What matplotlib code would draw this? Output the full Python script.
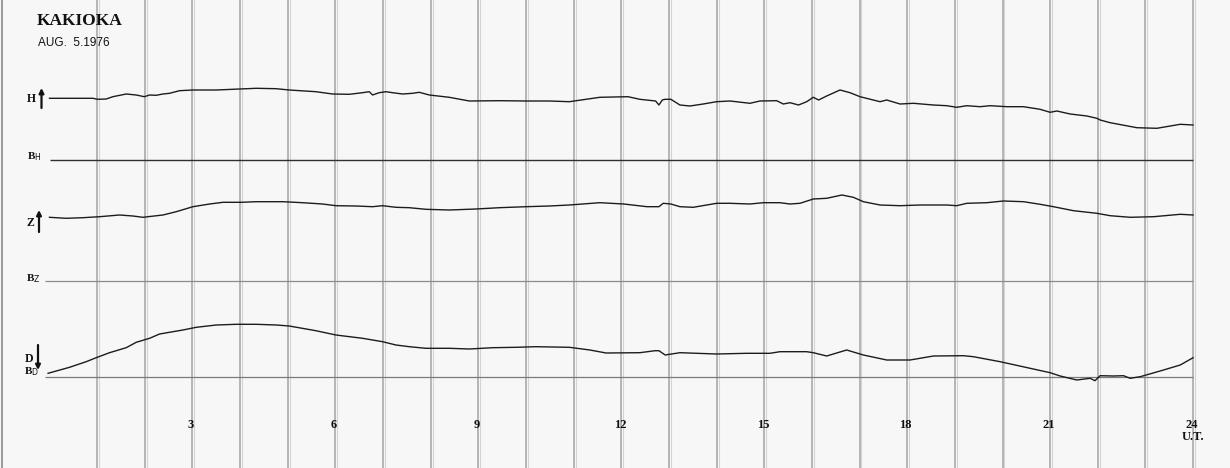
import matplotlib
matplotlib.use('Agg')
import matplotlib.pyplot as plt

# magnetogram traces (hour UT, trace row on the chart paper)
h_hours = [0.00, 0.91, 1.01, 1.19, 1.33, 1.61, 1.82, 1.99, 2.10, 2.24, 2.38, 2.52, 2.73, 3.01, 3.50,
           3.99, 4.34, 4.76, 5.03, 5.59, 5.94, 6.29, 6.57, 6.71, 6.78, 6.92, 7.06, 7.20, 7.41, 7.62,
           7.76, 7.97, 8.39, 8.81, 9.44, 10.00, 10.49, 10.91, 11.55, 12.14, 12.39, 12.72, 12.79, 12.86,
           12.92, 13.04, 13.23, 13.44, 13.72, 14.00, 14.28, 14.70, 14.91, 15.26, 15.40, 15.54, 15.72,
           15.89, 16.03, 16.14, 16.31, 16.59, 16.80, 17.01, 17.43, 17.57, 17.85, 18.13, 18.55, 18.83,
           19.04, 19.25, 19.53, 19.74, 20.09, 20.44, 20.79, 21.00, 21.14, 21.42, 21.77, 21.98, 22.05,
           22.26, 22.82, 23.24, 23.73, 24.00]
h_trace = [98.3, 98.3, 99.3, 99.0, 96.7, 94.0, 95.0, 96.7, 95.0, 95.3, 94.0, 93.3, 90.7, 90.0, 90.0,
           89.0, 88.3, 88.7, 90.0, 91.7, 94.0, 94.3, 92.7, 91.7, 95.0, 92.7, 91.7, 92.7, 94.0, 93.3,
           92.3, 95.0, 97.3, 101.0, 100.7, 101.0, 101.0, 101.7, 97.3, 96.7, 99.3, 101.0, 105.0, 100.0,
           99.3, 99.3, 105.0, 106.0, 104.0, 101.7, 101.0, 103.3, 101.0, 100.7, 104.0, 102.7, 105.0,
           101.7, 97.3, 100.0, 96.0, 90.0, 92.7, 96.7, 101.7, 100.0, 104.0, 103.3, 105.0, 105.7,
           107.3, 105.7, 106.7, 105.7, 106.7, 106.7, 109.3, 112.3, 111.0, 114.0, 116.0, 118.3, 120.0,
           122.7, 127.7, 128.3, 124.3, 125.0]

z_hours = [0.00, 0.35, 0.70, 1.05, 1.47, 1.75, 1.96, 2.38, 2.66, 3.01, 3.36, 3.64, 4.02, 4.34, 4.90,
           5.31, 5.73, 6.01, 6.43, 6.78, 6.99, 7.27, 7.55, 7.90, 8.39, 8.95, 9.44, 10.00, 10.49, 10.91,
           11.55, 12.05, 12.54, 12.79, 12.88, 13.04, 13.23, 13.51, 14.00, 14.28, 14.70, 14.98, 15.33,
           15.54, 15.75, 16.03, 16.31, 16.63, 16.87, 17.08, 17.43, 17.85, 18.27, 18.83, 19.04, 19.25,
           19.67, 20.02, 20.44, 20.79, 21.07, 21.49, 21.98, 22.26, 22.68, 23.17, 23.73, 24.00]
z_trace = [217.3, 218.3, 217.7, 216.7, 215.0, 216.0, 217.3, 215.0, 211.7, 206.7, 204.0, 202.3, 202.3,
           201.7, 201.7, 202.7, 204.0, 205.7, 206.0, 206.7, 205.7, 207.3, 207.7, 209.3, 210.0, 209.0,
           207.7, 206.7, 206.0, 205.0, 202.7, 204.0, 206.7, 206.7, 203.3, 204.0, 206.7, 207.3, 203.3,
           203.3, 204.0, 202.7, 202.7, 204.0, 203.3, 199.0, 198.3, 195.0, 197.3, 201.7, 205.0, 205.7,
           205.0, 205.0, 205.7, 203.3, 202.7, 201.0, 201.7, 204.3, 206.7, 210.7, 213.3, 215.7, 217.3,
           216.7, 214.3, 215.0]

d_hours = [-0.03, 0.42, 0.77, 0.98, 1.26, 1.61, 1.82, 2.10, 2.31, 2.80, 3.08, 3.50, 3.92, 4.34, 4.76,
           5.03, 5.59, 6.01, 6.57, 6.99, 7.27, 7.55, 7.90, 8.39, 8.81, 9.30, 9.79, 10.21, 10.91, 11.34,
           11.68, 12.39, 12.71, 12.79, 12.92, 13.23, 14.00, 14.63, 15.12, 15.33, 15.89, 16.03, 16.31,
           16.73, 17.08, 17.57, 18.06, 18.55, 19.18, 19.39, 19.95, 20.58, 21.00, 21.21, 21.56, 21.84,
           21.94, 22.05, 22.33, 22.54, 22.68, 22.89, 23.38, 23.73, 24.00]
d_trace = [373.3, 367.3, 361.7, 357.7, 352.7, 347.7, 342.3, 338.3, 334.0, 330.0, 327.3, 325.0, 324.3,
           324.3, 325.0, 326.0, 330.7, 335.0, 338.3, 341.7, 345.0, 346.7, 348.3, 348.3, 349.0, 347.7,
           347.3, 346.7, 347.3, 350.0, 353.0, 352.7, 350.7, 350.7, 355.0, 352.7, 354.0, 353.3, 353.3,
           351.7, 351.7, 352.7, 356.0, 350.0, 355.0, 360.0, 360.0, 356.0, 355.7, 356.7, 361.7, 368.3,
           372.7, 376.0, 380.0, 378.3, 380.7, 375.7, 376.0, 375.7, 378.3, 376.7, 370.0, 365.0, 357.7]

baselines = {'BH': 160.0, 'BZ': 281.0, 'BD': 377.0}
tick_hours = [3, 6, 9, 12, 15, 18, 21, 24]

PX0 = 49.5     # pixel column of 0h
PX_HR = 47.65  # pixels per hour


def px2h(px):
    return (px - PX0) / PX_HR


def main():
    fig = plt.figure(figsize=(12.3, 4.68), dpi=100, facecolor='#f7f7f7')
    ax = fig.add_axes([0, 0, 1, 1])
    ax.set_facecolor('#f7f7f7')
    ax.set_xlim(px2h(0), px2h(1230))
    ax.set_ylim(468, 0)
    ax.axis('off')

    # hourly grid
    for hr in range(1, 25):
        ax.axvline(hr, color='#a3a3a3', lw=1.1, zorder=1)
        ax.axvline(hr + 0.04, color='#d4d4d4', lw=0.8, zorder=1)
    ax.axvline(px2h(2), color='#8a8a8a', lw=1.2, zorder=1)

    # base lines
    ax.hlines(baselines['BH'], 0.0, 24.0, color='#303030', lw=1.0, zorder=2)
    ax.hlines(baselines['BZ'], px2h(45), 24.0, color='#8c8c8c', lw=0.9, zorder=2)
    ax.hlines(baselines['BD'], px2h(45), 24.0, color='#7a7a7a', lw=0.9, zorder=2)

    # traces
    for xs, ys in [(h_hours, h_trace), (z_hours, z_trace), (d_hours, d_trace)]:
        ax.plot(xs, ys, color='#1c1c1c', lw=1.0, zorder=3)

    # header
    ax.text(px2h(37), 21, 'KAKIOKA', family='Liberation Serif', weight='bold', fontsize=12.5,
            ha='left', va='center', color='#111111')
    ax.text(px2h(38), 43, 'AUG.  5.1976', family='Liberation Sans', fontsize=8.5,
            ha='left', va='center', color='#111111')

    # component labels
    lab = dict(family='Liberation Serif', weight='bold', color='#111111', ha='center', va='center')
    ax.text(px2h(31.5), 98.5, 'H', fontsize=8.5, **lab)
    ax.text(px2h(30), 222.5, 'Z', fontsize=8.5, **lab)
    ax.text(px2h(29), 358.5, 'D', fontsize=8.5, **lab)
    ax.text(px2h(34), 156.5, 'B$_{\\rm H}$', fontsize=8, **lab)
    ax.text(px2h(33), 279, 'B$_{\\rm Z}$', fontsize=8, **lab)
    ax.text(px2h(32), 372, 'B$_{\\rm D}$', fontsize=8, **lab)

    arrow = dict(arrowstyle='-|>', color='#111111', lw=1.6, mutation_scale=7, shrinkA=0, shrinkB=0)
    ax.annotate('', xy=(px2h(41.5), 88), xytext=(px2h(41.5), 108), arrowprops=arrow)
    ax.annotate('', xy=(px2h(39), 210), xytext=(px2h(39), 232), arrowprops=arrow)
    ax.annotate('', xy=(px2h(38), 370), xytext=(px2h(38), 345), arrowprops=arrow)

    # hour labels
    for hr in tick_hours:
        ax.text(hr - 0.03, 425, str(hr), family='Liberation Serif', weight='bold', fontsize=9,
                ha='center', va='center', color='#111111')
    ax.text(24.0, 437, 'U.T.', family='Liberation Serif', weight='bold', fontsize=9,
            ha='center', va='center', color='#111111')

    fig.savefig('out.png', dpi=100, facecolor=fig.get_facecolor())


if __name__ == '__main__':
    main()
